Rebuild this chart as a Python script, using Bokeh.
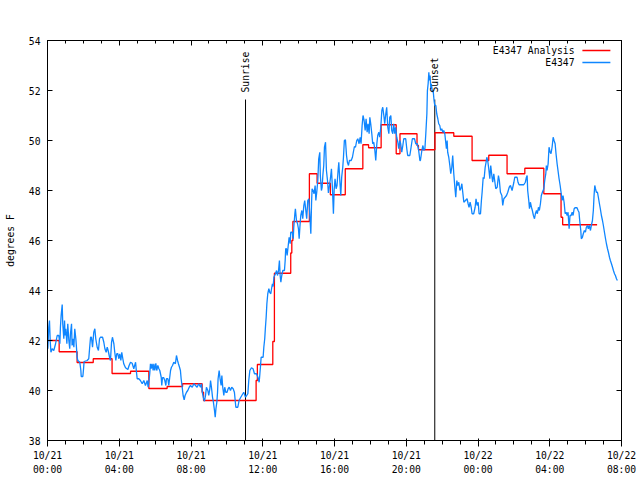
import math
from bokeh.plotting import figure
from bokeh.models import FixedTicker, LinearAxis, Label
from bokeh.embed import file_html
from bokeh.resources import INLINE

title_text = "Dew Point for E4347 on 2024-Oct-21 (time in UTC)"
y_label = "degrees F"
x_tick_hours = [0, 4, 8, 12, 16, 20, 24, 28, 32]
x_tick_labels = ["10/21\n00:00", "10/21\n04:00", "10/21\n08:00", "10/21\n12:00",
                 "10/21\n16:00", "10/21\n20:00", "10/22\n00:00", "10/22\n04:00",
                 "10/22\n08:00"]
x_minor_hours = list(range(0, 33))
y_ticks = [38, 40, 42, 44, 46, 48, 50, 52, 54]

sunrise_hr = 11.04
sunset_hr = 21.59

series_names = ["E4347 Analysis", "E4347"]

# Analysis (step) : start hour, value
analysis_hr = [0.0, 0.65, 1.65, 2.55, 3.6, 4.63, 5.65, 6.67, 7.53, 8.62, 8.70, 11.63,
               11.70, 12.56, 12.65, 13.56, 13.62, 13.68, 14.6, 15.03, 15.77, 16.6,
               17.58, 17.9, 18.6, 19.44, 19.65, 20.6, 20.68, 21.6, 22.65, 23.67, 24.6,
               25.62, 26.61, 27.67, 28.63, 28.72, 30.64]
analysis_f = [42.0, 41.55, 41.12, 41.27, 40.68, 40.77, 40.08, 40.16, 40.27, 39.93, 39.6,
              40.4, 41.04, 41.96, 44.69, 45.5, 46.0, 46.76, 48.67, 48.29, 47.83, 48.87,
              49.83, 49.71, 50.63, 49.47, 50.27, 49.8, 49.63, 50.31, 50.17, 49.2, 49.41,
              48.67, 48.89, 47.87, 46.93, 46.63, 46.63]

station_hr = [
    0.02, 0.07, 0.11, 0.15, 0.19, 0.26, 0.35, 0.45, 0.54, 0.63, 0.69, 0.72, 0.76, 0.82,
    0.85, 0.91, 0.95, 0.98, 1.02, 1.08, 1.13, 1.19, 1.24, 1.28, 1.34, 1.37, 1.43, 1.47,
    1.52, 1.58, 1.62, 1.65, 1.69, 1.80, 1.86, 1.88, 1.97, 2.01, 2.04, 2.21, 2.30, 2.36,
    2.40, 2.45, 2.51, 2.58, 2.64, 2.69, 2.77, 2.84, 2.90, 2.95, 3.07, 3.14, 3.20, 3.27,
    3.33, 3.38, 3.46, 3.51, 3.57, 3.62, 3.70, 3.75, 3.81, 3.86, 3.92, 3.98, 4.03, 4.09,
    4.14, 4.20, 4.25, 4.35, 4.48, 4.55, 4.63, 4.72, 4.81, 4.91, 4.96, 5.00, 5.09,
    5.18, 5.28, 5.37, 5.46, 5.56, 5.61, 5.65, 5.70, 5.74, 5.78, 5.83, 5.89, 5.93, 5.98,
    6.04, 6.09, 6.15, 6.21, 6.26, 6.34, 6.37, 6.41, 6.48, 6.54, 6.60, 6.63, 6.71, 6.76,
    6.86, 6.91, 6.97, 7.04, 7.13, 7.19, 7.25, 7.30, 7.36, 7.41, 7.45, 7.51, 7.56, 7.62,
    7.67, 7.75, 7.82, 7.90, 7.97, 8.07, 8.16, 8.25, 8.34, 8.43, 8.53, 8.58, 8.64, 8.69,
    8.75, 8.81, 8.86, 8.94, 8.99, 9.05, 9.09, 9.14, 9.20, 9.25, 9.31, 9.35, 9.39, 9.44,
    9.48, 9.51, 9.57, 9.62, 9.68, 9.72, 9.77, 9.83, 9.88, 9.94, 10.01, 10.07, 10.13,
    10.20, 10.27, 10.35, 10.42, 10.50, 10.61, 10.68,
    10.76, 10.94, 11.04, 11.17, 11.22, 11.28, 11.37, 11.46, 11.54, 11.65, 11.73, 11.80,
    11.84, 11.87, 11.91, 12.02, 12.06, 12.11, 12.15, 12.19, 12.23, 12.28, 12.34, 12.39,
    12.45, 12.49, 12.54, 12.58, 12.62, 12.71, 12.77, 12.82, 12.88, 12.93, 12.97, 13.01,
    13.06, 13.12, 13.21, 13.25, 13.28, 13.32, 13.36, 13.41, 13.47, 13.53, 13.56, 13.64,
    13.70, 13.73, 13.79, 13.82, 13.88, 13.94, 13.99, 14.03, 14.07, 14.12, 14.18, 14.23,
    14.29, 14.34, 14.40, 14.45, 14.51, 14.57, 14.62, 14.68, 14.72, 14.75, 14.81, 14.86,
    14.92, 14.96, 15.01, 15.07, 15.12, 15.18, 15.21, 15.27, 15.31, 15.35, 15.40, 15.44,
    15.50, 15.55, 15.61, 15.66, 15.72,
    15.77, 15.83, 15.89, 15.94, 15.98, 16.03, 16.09, 16.14, 16.20, 16.24, 16.29, 16.35,
    16.40, 16.46, 16.50, 16.55, 16.61, 16.67, 16.72, 16.78, 16.83, 16.93, 17.00, 17.05,
    17.11, 17.17, 17.24, 17.30, 17.37, 17.43, 17.48, 17.54, 17.59, 17.65, 17.71, 17.76,
    17.82, 17.87, 17.93, 17.97, 18.02, 18.08, 18.13, 18.19, 18.25, 18.30, 18.36, 18.41,
    18.47, 18.52, 18.58, 18.64, 18.69, 18.75, 18.80, 18.86, 18.91, 18.97, 19.03, 19.08,
    19.14, 19.19, 19.25, 19.30, 19.36, 19.41, 19.47, 19.53, 19.58, 19.64, 19.69, 19.75,
    19.81, 19.86, 19.97, 20.03, 20.08, 20.20, 20.27, 20.34, 20.46, 20.53, 20.61, 20.68,
    20.76,
    20.79, 20.87, 20.93, 20.98, 21.04, 21.09, 21.15, 21.18, 21.22, 21.26, 21.29, 21.33,
    21.37, 21.40, 21.46, 21.50, 21.55, 21.59, 21.65, 21.70, 21.76, 21.81, 21.87, 21.92,
    21.98, 22.04, 22.09, 22.15, 22.20, 22.24, 22.28, 22.31, 22.37, 22.43, 22.48, 22.54,
    22.59, 22.65, 22.71, 22.76, 22.82, 22.87, 22.93, 22.99, 23.04, 23.10, 23.15, 23.21,
    23.30, 23.39, 23.45, 23.50, 23.56, 23.62, 23.67, 23.76, 23.84, 23.89, 23.95, 24.01,
    24.06, 24.14, 24.19, 24.23, 24.29, 24.34, 24.40, 24.45, 24.49, 24.54, 24.60, 24.66,
    24.71, 24.77, 24.82, 24.88, 24.93, 24.99, 25.07, 25.14, 25.19, 25.25, 25.33, 25.38,
    25.44, 25.51, 25.59, 25.66, 25.74, 25.81,
    25.90, 26.00, 26.05, 26.18, 26.23, 26.29, 26.55, 26.64, 26.70, 26.74, 26.77, 26.83,
    26.87, 26.92, 26.98, 27.03, 27.09, 27.15, 27.20, 27.26, 27.31, 27.37, 27.42, 27.48,
    27.53, 27.59, 27.67, 27.72, 27.78, 27.81, 27.85, 27.91, 27.96, 28.02, 28.07, 28.13,
    28.19, 28.24, 28.30, 28.35, 28.41, 28.46, 28.52, 28.58, 28.63, 28.69, 28.74, 28.80,
    28.86, 28.91, 28.97, 29.02, 29.08, 29.13, 29.19, 29.25, 29.30, 29.36, 29.41, 29.52,
    29.58, 29.63, 29.67, 29.73, 29.76, 29.82, 29.87, 29.93, 29.99, 30.04, 30.10, 30.15,
    30.21, 30.27, 30.32, 30.38, 30.43, 30.47, 30.51, 30.55, 30.60, 30.66, 30.71, 30.77,
    30.82, 30.88, 30.94, 30.99, 31.05, 31.11, 31.16, 31.22, 31.27, 31.33, 31.38, 31.44,
    31.50, 31.55, 31.61, 31.66, 31.72, 31.77]

station_f = [
    41.67, 42.53, 42.8, 42.0, 41.53, 41.67, 41.6, 41.87, 42.2, 42.2, 41.87, 42.53, 43.0, 43.44,
    42.67, 42.07, 42.8, 42.2, 42.47, 41.87, 42.67, 42.0, 41.67, 42.27, 42.67, 41.8, 42.07, 41.73,
    42.47, 42.07, 41.67, 41.33, 41.2, 41.13, 40.8, 40.56, 40.56, 40.87, 41.16, 41.2, 41.27, 41.8,
    42.13, 42.13, 41.73, 42.33, 42.47, 42.07, 41.73, 41.6, 42.07, 42.13, 42.13, 41.93, 41.67, 41.53,
    41.73, 41.6, 41.33, 41.2, 41.93, 42.13, 41.87, 41.53, 41.2, 41.47, 41.47, 41.27, 41.47, 41.2,
    41.53, 41.27, 41.07, 40.91, 40.84, 41.0, 41.13, 41.09, 40.87, 41.13, 40.73, 40.47, 40.47,
    40.4, 40.27, 40.4, 40.2, 40.4, 40.13, 40.33, 40.67, 41.07, 40.87, 41.07, 40.8, 41.07, 40.8,
    41.09, 40.8, 41.0, 40.87, 40.8, 40.53, 40.2, 40.51, 40.51, 40.4, 40.2, 40.47, 40.47, 40.2,
    40.8, 40.93, 41.0, 41.13, 41.07, 41.4, 41.2, 41.07, 40.93, 40.8, 40.47, 40.13, 39.8, 39.63,
    39.8, 39.93, 40.0, 40.13, 40.2, 40.13, 40.27, 40.2, 40.13, 40.27, 40.13, 40.27, 39.89, 39.71,
    39.57, 39.8, 40.13, 40.0, 39.8, 40.07, 40.4, 40.13, 39.73, 39.53, 39.2, 38.93, 39.27, 39.53,
    39.93, 40.47, 40.8, 40.47, 40.2, 40.6, 40.13, 39.8, 40.13, 39.93, 39.93, 40.07, 40.13,
    40.0, 40.13, 40.07, 39.93, 39.33, 39.33, 39.6,
    39.71, 39.93, 39.73, 39.87, 40.4, 40.8, 40.91, 40.87, 40.67, 40.67, 40.53, 40.33,
    40.67, 40.93, 41.33, 41.33, 41.73, 42.07, 42.53, 42.93, 43.47, 43.87, 44.07, 43.93,
    43.87, 44.07, 44.27, 44.16, 44.53, 44.67, 44.8, 44.6, 44.8, 45.2, 44.6, 44.33,
    44.6, 44.8, 44.8, 45.2, 45.67, 45.67, 45.4, 45.73, 46.13, 45.87, 46.33, 46.33,
    46.07, 46.53, 47.07, 47.27, 46.8, 46.67, 46.47, 46.07, 46.53, 47.0, 47.2, 46.87,
    47.4, 47.6, 47.2, 46.87, 47.6, 47.67, 47.07, 46.27, 47.47, 48.07, 48.0, 47.87,
    48.2, 47.6, 47.93, 48.4, 49.27, 49.53, 48.6, 48.0, 48.13, 48.6, 49.0, 49.73,
    49.93, 48.8, 48.4, 47.9, 48.2,
    48.47, 48.87, 48.0, 47.07, 48.0, 48.47, 48.07, 48.2, 48.8, 49.13, 48.47, 47.8,
    48.53, 48.93, 49.33, 50.0, 50.03, 49.4, 49.13, 49.0, 49.2, 49.2, 49.33, 49.53,
    49.76, 49.73, 50.0, 50.07, 49.87, 50.13, 49.87, 50.6, 51.0, 50.8, 50.4, 50.87,
    50.33, 50.67, 50.27, 50.93, 50.67, 50.27, 49.87, 49.93, 49.6, 49.2, 49.87, 50.2,
    50.33, 50.13, 50.53, 51.2, 51.33, 51.0, 50.67, 51.07, 51.33, 50.53, 50.27, 50.93,
    51.0, 50.4, 50.27, 50.67, 50.27, 50.53, 50.13, 49.93, 49.67, 50.0, 49.87, 49.53,
    49.8, 50.07, 50.07, 49.67, 49.4, 49.4, 49.73, 50.07, 50.07, 49.87, 49.87, 49.67,
    49.2,
    49.2, 49.6, 49.8, 49.6, 49.67, 50.27, 51.07, 52.0, 52.27, 52.73, 52.4, 52.6,
    52.07, 52.27, 51.93, 52.0, 51.6, 51.4, 51.4, 51.07, 50.87, 50.67, 50.6, 50.4,
    50.47, 50.33, 50.4, 50.27, 49.93, 49.67, 50.0, 49.53, 49.33, 49.0, 48.67, 48.93,
    49.4, 48.67, 48.13, 47.73, 48.4, 48.2, 48.33, 48.0, 48.07, 48.27, 47.93, 47.53,
    47.6, 47.67, 47.47, 47.33, 47.53, 47.33, 47.07, 47.07, 47.33, 47.67, 47.4, 47.53,
    47.07, 47.07, 47.6, 47.93, 48.53, 48.47, 48.93, 49.13, 49.33, 49.2, 48.87, 48.47,
    49.0, 48.6, 48.33, 48.67, 48.4, 48.07, 48.13, 48.6, 48.4, 47.93, 47.8, 47.4,
    47.67, 47.73, 47.8, 47.93, 48.13, 48.2,
    48.0, 48.33, 48.53, 48.53, 48.33, 48.23, 48.23, 48.33, 48.53, 48.6, 48.0, 47.6,
    47.27, 47.53, 47.33, 47.2, 47.0, 46.87, 47.07, 47.2, 47.07, 47.33, 47.2, 47.47,
    47.8, 47.93, 48.07, 48.4, 48.67, 49.0, 48.8, 49.07, 49.73, 49.53, 49.47, 49.73,
    50.13, 50.0, 49.87, 49.47, 49.07, 48.8, 48.47, 48.2, 47.93, 47.6, 47.8, 47.53,
    47.07, 47.13, 47.0, 47.13, 46.47, 47.0, 47.0, 47.13, 47.0, 47.27, 47.31, 47.31,
    47.2, 47.13, 46.8, 46.4, 46.07, 46.13, 46.27, 46.4, 46.33, 46.53, 46.6, 46.47,
    46.6, 46.4, 46.6, 46.8, 47.2, 47.8, 48.2, 48.07, 47.93, 47.93, 47.73, 47.47,
    47.27, 47.0, 46.8, 46.6, 46.33, 46.07, 45.87, 45.67, 45.53, 45.33, 45.2, 45.07,
    44.93, 44.8, 44.67, 44.6, 44.47, 44.4]

FONT = "DejaVu Sans Mono"
FS = "9.7px"
RED = "#ff0000"
BLUE = "#0f86ff"

p = figure(width=640, height=480, x_range=(0, 32), y_range=(38, 54),
           toolbar_location=None, output_backend="svg",
           min_border_left=47, min_border_right=19, min_border_top=40, min_border_bottom=40)
p.background_fill_color = "white"
p.border_fill_color = "white"
p.outline_line_color = "black"
p.outline_line_width = 1
p.grid.visible = False

xt = FixedTicker(ticks=x_tick_hours, minor_ticks=x_minor_hours)
yt = FixedTicker(ticks=y_ticks, minor_ticks=[])

for ax in p.xaxis:
    ax.ticker = xt
    ax.major_label_overrides = dict(zip(x_tick_hours, x_tick_labels))
    ax.major_label_text_font = FONT
    ax.major_label_text_font_size = FS
    ax.major_label_text_color = "black"
    ax.major_label_text_line_height = 1.3
    ax.major_label_standoff = 3
for ax in p.yaxis:
    ax.ticker = yt
    ax.major_label_text_font = FONT
    ax.major_label_text_font_size = FS
    ax.major_label_text_color = "black"
    ax.major_label_standoff = 7
    ax.axis_label = y_label
    ax.axis_label_text_font = FONT
    ax.axis_label_text_font_size = FS
    ax.axis_label_text_color = "black"
    ax.axis_label_text_font_style = "normal"
    ax.axis_label_standoff = 10

top_ax = LinearAxis(ticker=xt, major_label_text_color=None)
right_ax = LinearAxis(ticker=yt, major_label_text_color=None)
p.add_layout(top_ax, "above")
p.add_layout(right_ax, "right")

for ax in [p.xaxis[0], p.yaxis[0], top_ax, right_ax]:
    ax.major_tick_in = 5
    ax.major_tick_out = 0
    ax.minor_tick_in = 3
    ax.minor_tick_out = 0
    ax.axis_line_color = "black"
    ax.major_tick_line_color = "black"
    ax.minor_tick_line_color = "black"
p.yaxis[0].minor_tick_line_color = None
right_ax.minor_tick_line_color = None

# sunrise / sunset markers
p.segment(x0=[sunrise_hr, sunset_hr], y0=[38, 38], x1=[sunrise_hr, sunset_hr],
          y1=[51.64, 51.64], line_color="black", line_width=1)
for hr, txt in [(sunrise_hr, "Sunrise"), (sunset_hr, "Sunset")]:
    p.add_layout(Label(x=hr, y=51.92, text=txt, angle=math.pi / 2, text_align="left",
                       text_baseline="middle", text_font=FONT, text_font_size=FS,
                       text_color="black"))

p.step(analysis_hr, analysis_f, mode="after", line_color=RED, line_width=1.3)
p.line(station_hr, station_f, line_color=BLUE, line_width=1.3)

# title
p.add_layout(Label(x=15.87, y=54.8, text=title_text, text_align="center",
                   text_baseline="middle", text_font=FONT, text_font_size=FS,
                   text_color="black"))

# legend (text right, sample line to the right)
for name, col, ly in [(series_names[0], RED, 53.6), (series_names[1], BLUE, 53.12)]:
    p.add_layout(Label(x=29.38, y=ly, text=name, text_align="right", text_baseline="middle",
                       text_font=FONT, text_font_size=FS, text_color="black"))
    p.line([29.82, 31.38], [ly, ly], line_color=col, line_width=1.3)

open("out.html", "w").write(file_html(p, INLINE))
